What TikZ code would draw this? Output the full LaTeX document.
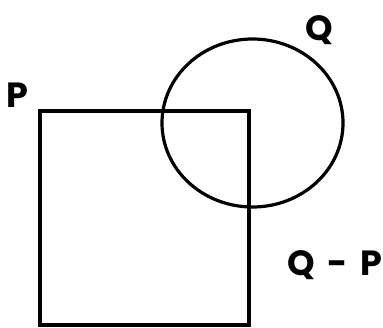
\documentclass[tikz,border=0pt]{standalone}
\usepackage{fontspec}
\setmainfont{Poppins}[BoldFont={* Bold}]
\usepackage{tikz}
\usetikzlibrary{positioning}
\tikzset{
  setlabel/.style={font=\bfseries\fontsize{35pt}{38pt}\selectfont, inner sep=0pt, anchor=base west},
  setline/.style={line width=3.2pt}
}

\begin{document}
\begin{tikzpicture}[x=1pt, y=-1pt]
  \useasboundingbox (0,0) rectangle (383,327);
  % set P as a square, set Q as an ellipse
  \draw[setline] (40,111) rectangle (249,325);
  \draw[setline] (252.5,123) ellipse [x radius=90.5, y radius=84];
  \node[setlabel] (p)  at (6,107)  {P};
  \node[setlabel] (q)  at (305,40) {Q};
  \node[setlabel] (qp) at (287,275) {Q\hspace{0.36em}-\hspace{0.36em}P};
\end{tikzpicture}
\end{document}
